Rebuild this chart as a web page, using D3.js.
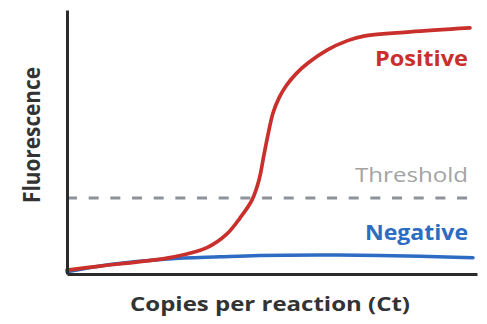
<!DOCTYPE html>
<html><head><meta charset="utf-8">
<script src="https://cdn.jsdelivr.net/npm/d3@7"></script>
<style>body{margin:0;background:#fff}svg{display:block}text{font-family:"Open Sans",sans-serif}</style>
</head><body>
<svg id="c" width="487" height="324"></svg>
<script>
// Cycle positions (x) and fluorescence values for each curve
const positiveX = [0, 3.28, 7.25, 10.52, 13.9, 15.88, 17.17, 18.36, 19.06, 19.55, 19.95, 20.45, 21.05, 21.74, 22.73, 23.92, 25.81, 27.79, 29.58, 34.05, 40];
const positiveY = [1.5, 3.0, 4.7, 6.4, 10.0, 15.2, 21.2, 28.0, 35.6, 45.1, 52.7, 61.0, 66.7, 71.2, 75.8, 79.9, 84.8, 88.3, 90.2, 91.7, 93.2];
const negativeX = [0, 4.3, 10, 15.2, 19.1, 25, 31, 40.3];
const negativeY = [0.8, 3.6, 5.7, 6.5, 7.0, 7.2, 7.0, 6.2];
const thresholdValue = 28.8;
const xDomain = [0, 40.7];
const yDomain = [0, 100];
const labels = {positive: "Positive", negative: "Negative", threshold: "Threshold", x: "Copies per reaction (Ct)", y: "Fluorescence"};

const svg = d3.select("#c");
const x = d3.scaleLinear().domain(xDomain).range([67, 477]);
const y = d3.scaleLinear().domain(yDomain).range([274, 10]);

const line = d3.line().x(d => x(d[0])).y(d => y(d[1])).curve(d3.curveCatmullRom.alpha(0.5));

// threshold
svg.append("line").attr("x1", x(0)).attr("x2", x(39.8)).attr("y1", y(thresholdValue)).attr("y2", y(thresholdValue))
  .attr("stroke", "#8d9399").attr("stroke-width", 3).attr("stroke-dasharray", "10,11.67");

svg.append("path").datum(d3.zip(negativeX, negativeY)).attr("d", line)
  .attr("fill", "none").attr("stroke", "#2d6cc2").attr("stroke-width", 3.5).attr("stroke-linecap", "round");
svg.append("path").datum(d3.zip(positiveX, positiveY)).attr("d", line)
  .attr("fill", "none").attr("stroke", "#c9302c").attr("stroke-width", 3.7).attr("stroke-linecap", "round");

// axes
const xAxis = svg.append("g").attr("transform", `translate(0,${y(0)})`).call(d3.axisBottom(x).ticks(0).tickSizeOuter(0));
xAxis.select(".domain").attr("stroke", "#2b2b2b").attr("stroke-width", 3);
const yAxis = svg.append("g").attr("transform", `translate(${x(0)},0)`).call(d3.axisLeft(y).ticks(0).tickSizeOuter(0));
yAxis.select(".domain").attr("stroke", "#2b2b2b").attr("stroke-width", 3);

function label(t, xx, yy, anchor, weight, size, fill, len) {
  return svg.append("text").attr("x", xx).attr("y", yy).attr("text-anchor", anchor).attr("font-weight", weight)
    .attr("font-size", size).attr("fill", fill).attr("textLength", len).attr("lengthAdjust", "spacingAndGlyphs").text(t);
}
label(labels.positive, 468, 66, "end", 700, 20.5, "#c9302c", 93);
label(labels.threshold, 468, 182, "end", 400, 20, "#a3a3a3", 113);
label(labels.negative, 468, 240, "end", 700, 20.5, "#2d6cc2", 103);
label(labels.x, 270, 311, "middle", 700, 19.5, "#333", 280);
svg.append("text").attr("transform", "translate(40,135) scale(1.2,1) rotate(-90)").attr("text-anchor", "middle").attr("font-weight", 700)
  .attr("font-size", 19.5).attr("fill", "#333").attr("textLength", 136).attr("lengthAdjust", "spacingAndGlyphs").text(labels.y);
</script>
</body></html>
